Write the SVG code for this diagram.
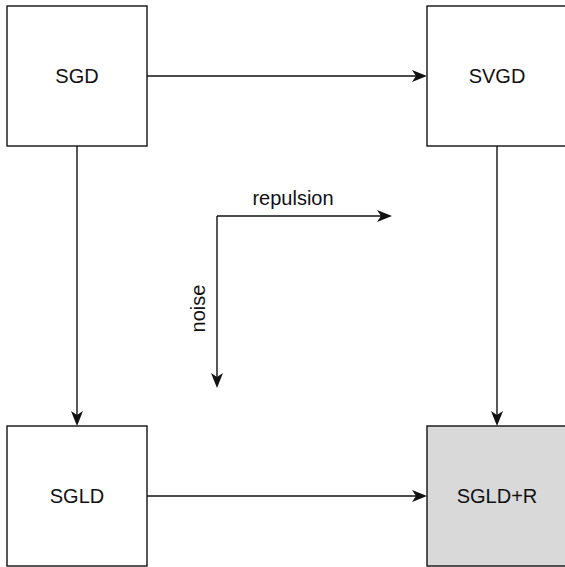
<svg xmlns="http://www.w3.org/2000/svg" width="565" height="567" viewBox="0 0 565 567">
  <style>
    .box { fill: #ffffff; stroke: #111111; stroke-width: 1.4; }
    .box.target { fill: #d9d9d9; }
    .label { font-family: "Liberation Sans", Arial, Helvetica, sans-serif; font-size: 20px; fill: #111111; text-anchor: middle; }
    .edge { fill: none; stroke: #111111; stroke-width: 1.4; marker-end: url(#arrow); }
  </style>
  <defs>
    <!-- classic notched arrowhead; reference point sits at the notch -->
    <marker id="arrow" markerUnits="userSpaceOnUse" viewBox="0 0 15 13" markerWidth="15" markerHeight="13" refX="4" refY="6.5" orient="auto">
      <path d="M15,6.5 L0,0.5 L4,6.5 L0,12.5 Z" fill="#111111"/>
    </marker>
  </defs>

  <rect width="565" height="567" fill="#ffffff"/>

  <g id="connectors">
    <path class="edge" d="M147,76 H416"/>
    <path class="edge" d="M77,146 V415"/>
    <path class="edge" d="M497,146 V415"/>
    <path class="edge" d="M147,496 H416"/>
    <path class="edge" d="M217,216 H381"/>
    <path class="edge" d="M217,216 V377"/>
    <text class="label" x="293" y="205">repulsion</text>
    <text class="label" transform="translate(205,308.5) rotate(-90)" x="0" y="0">noise</text>
  </g>

  <g id="sgd">
    <rect class="box" x="7" y="6" width="140" height="140"/>
    <text class="label" x="77" y="83">SGD</text>
  </g>

  <g id="svgd">
    <rect class="box" x="427" y="6" width="140" height="140"/>
    <text class="label" x="497" y="83">SVGD</text>
  </g>

  <g id="sgld">
    <rect class="box" x="7" y="426" width="140" height="140"/>
    <text class="label" x="77" y="503">SGLD</text>
  </g>

  <g id="sgld-r">
    <rect class="box target" x="427" y="426" width="140" height="140"/>
    <text class="label" x="497" y="503">SGLD+R</text>
  </g>
</svg>
